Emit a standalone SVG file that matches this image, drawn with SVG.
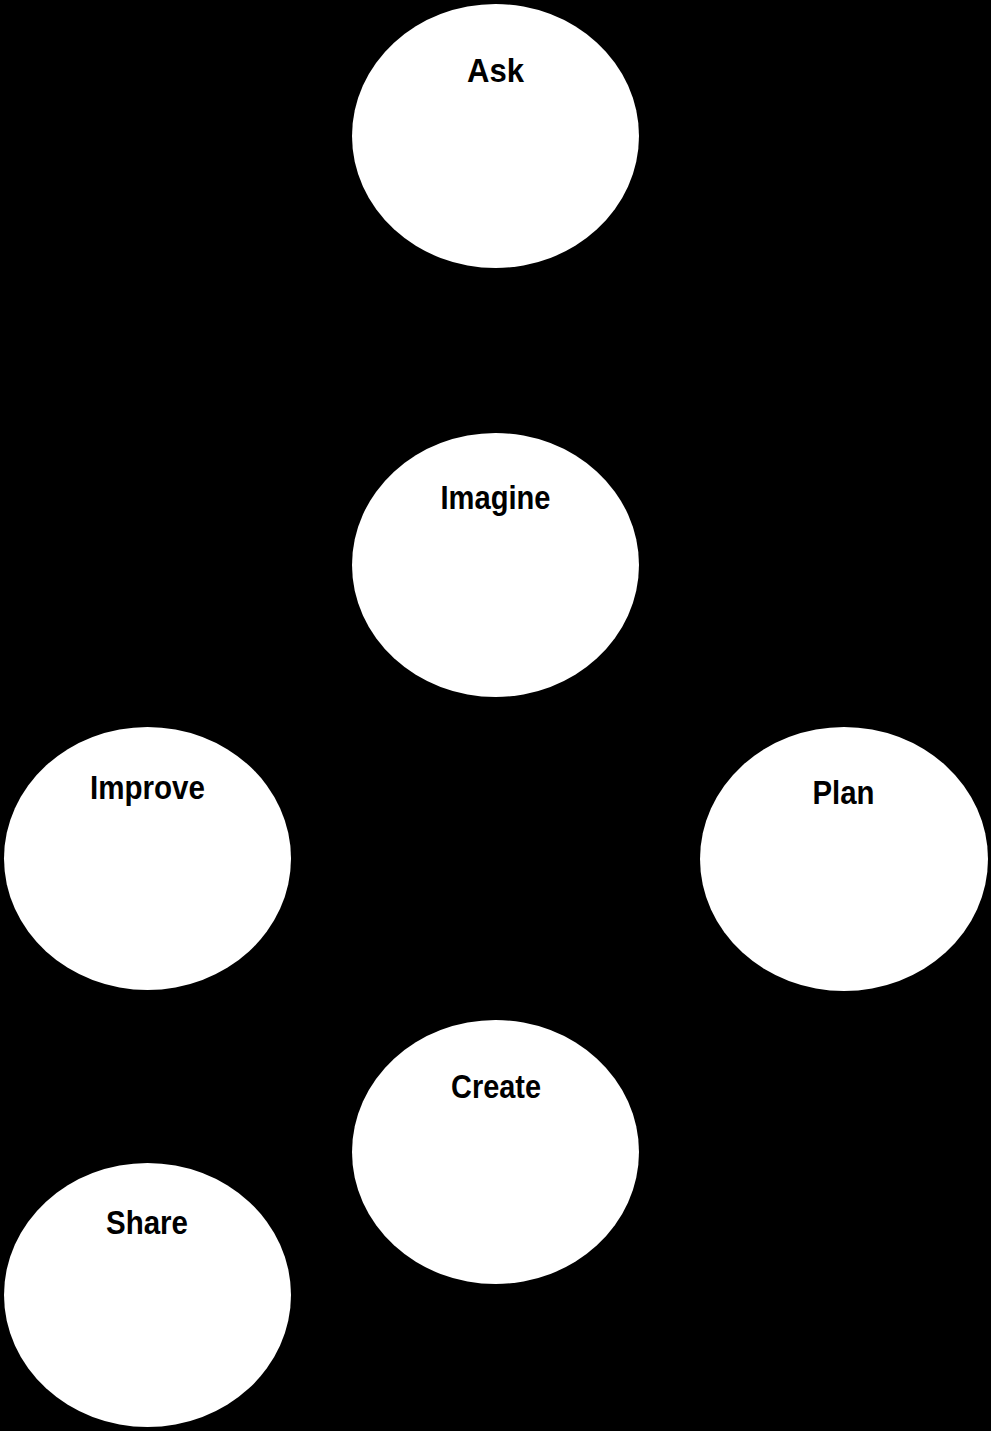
<svg xmlns="http://www.w3.org/2000/svg" width="991" height="1431" viewBox="0 0 991 1431">
  <style>
    .node { fill: #ffffff; stroke: none; }
    .label { font-family: "Liberation Sans", Arial, sans-serif; font-weight: bold; font-size: 33px; fill: #000000; text-anchor: middle; }
  </style>
  <rect x="0" y="0" width="991" height="1431" fill="#000000"/>
  <g id="connectors"></g>
  <g id="ask">
    <ellipse class="node" cx="495.5" cy="136" rx="143.5" ry="132"/>
    <text class="label" x="495.5" y="82" textLength="57" lengthAdjust="spacingAndGlyphs">Ask</text>
  </g>
  <g id="imagine">
    <ellipse class="node" cx="495.5" cy="565" rx="143.5" ry="132"/>
    <text class="label" x="495.5" y="509" textLength="110" lengthAdjust="spacingAndGlyphs">Imagine</text>
  </g>
  <g id="improve">
    <ellipse class="node" cx="147.5" cy="858.5" rx="143.5" ry="131.5"/>
    <text class="label" x="147.5" y="799" textLength="115" lengthAdjust="spacingAndGlyphs">Improve</text>
  </g>
  <g id="plan">
    <ellipse class="node" cx="844" cy="859" rx="144" ry="132"/>
    <text class="label" x="843.5" y="804" textLength="62" lengthAdjust="spacingAndGlyphs">Plan</text>
  </g>
  <g id="create">
    <ellipse class="node" cx="495.5" cy="1152" rx="143.5" ry="132"/>
    <text class="label" x="496" y="1098" textLength="90" lengthAdjust="spacingAndGlyphs">Create</text>
  </g>
  <g id="share">
    <ellipse class="node" cx="147.5" cy="1295" rx="143.5" ry="132"/>
    <text class="label" x="147" y="1234" textLength="82" lengthAdjust="spacingAndGlyphs">Share</text>
  </g>
</svg>
